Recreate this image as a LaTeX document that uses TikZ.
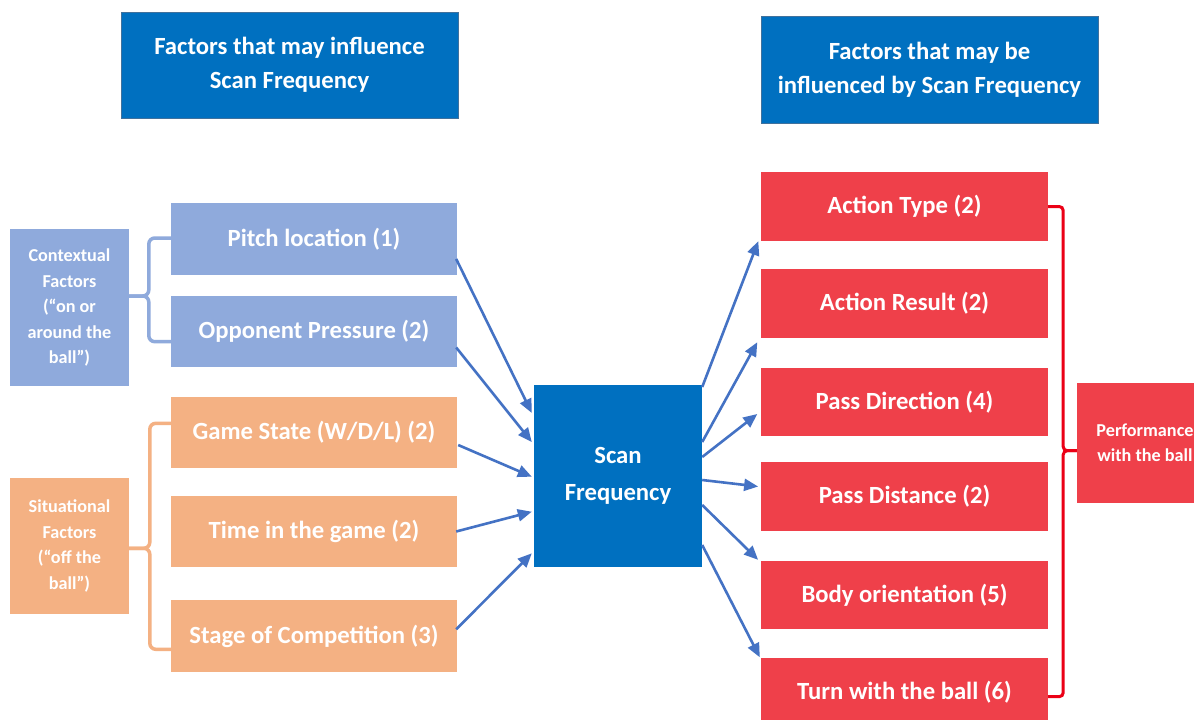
\documentclass[tikz,border=0pt]{standalone}
\usepackage{fontspec}
\setmainfont{Carlito}
\usetikzlibrary{arrows.meta}
\definecolor{dblue}{HTML}{0070C0}
\definecolor{tborder}{HTML}{41719C}
\definecolor{lblue}{HTML}{8FAADC}
\definecolor{lorange}{HTML}{F4B183}
\definecolor{lred}{HTML}{EF404A}
\definecolor{bracketred}{RGB}{235,0,22}
\definecolor{arrowblue}{HTML}{4472C4}
\tikzset{
  box/.style={rectangle, inner sep=0pt, align=center, text=white},
  bigtext/.style={font=\bfseries\fontsize{24.7}{34}\selectfont},
  smalltext/.style={font=\bfseries\fontsize{18.2}{25.5}\selectfont},
  titlebox/.style={box, bigtext, fill=dblue, draw=tborder, line width=1pt, minimum width=337pt, minimum height=106pt},
  ctxbox/.style={box, fill=lblue, minimum width=286pt},
  sitbox/.style={box, fill=lorange, minimum width=286pt},
  outbox/.style={box, bigtext, fill=lred, minimum width=287pt, minimum height=69pt},
  conn/.style={draw=arrowblue, line width=2.6pt, -{Triangle[length=14pt,width=12pt]}},
  brace/.style={line width=3.5pt, rounded corners=6pt},
}
\begin{document}
\begin{tikzpicture}[x=1pt,y=-1pt]
\useasboundingbox (0,0) rectangle (1194,720);
\clip (0,0) rectangle (1194,720);
\fill[white] (0,0) rectangle (1194,720);

% titles
\node[titlebox] (lt) at (289.5,65) {Factors that may influence\\Scan Frequency};
\node[titlebox, minimum height=107pt] (rt) at (929.5,69.5) {Factors that may be\\influenced by Scan Frequency};

% left group labels
\node[box, smalltext, fill=lblue, minimum width=119pt, minimum height=157pt] (ctx) at (69.5,307.5)
  {Contextual\\Factors\\(“on or\\around the\\ball”)};
\node[box, smalltext, fill=lorange, minimum width=119pt, minimum height=136pt] (sit) at (69.5,546)
  {Situational\\Factors\\(“off the\\ball”)};

% left factor boxes
\node[ctxbox, bigtext, minimum height=72pt] (pitch) at (314,239) {Pitch location (1)};
\node[ctxbox, bigtext, minimum height=71pt] (opp) at (314,331.5) {Opponent Pressure (2)};
\node[sitbox, bigtext, minimum height=71pt] (game) at (314,432.5) {Game State (W/D/L) (2)};
\node[sitbox, bigtext, minimum height=71pt] (time) at (314,531.5) {Time in the game (2)};
\node[sitbox, bigtext, minimum height=72pt] (stage) at (314,636) {Stage of Competition (3)};

% centre
\node[box, font=\bfseries\fontsize{24.7}{37}\selectfont, fill=dblue, minimum width=168pt, minimum height=182pt] (scan) at (618,476)
  {Scan\\Frequency};

% right boxes
\node[outbox] (atype) at (904.5,206.5) {Action Type (2)};
\node[outbox] (ares) at (904.5,303.5) {Action Result (2)};
\node[outbox, minimum height=68pt] (pdir) at (904.5,402) {Pass Direction (4)};
\node[outbox] (pdist) at (904.5,496.5) {Pass Distance (2)};
\node[outbox, minimum height=68pt] (body) at (904.5,595) {Body orientation (5)};
\node[outbox] (turn) at (904.5,692) {Turn with the ball (6)};

\node[box, font=\bfseries\fontsize{18.2}{25}\selectfont, fill=lred, minimum width=136pt, minimum height=120pt] (perf) at (1145,443)
  {Performance\\with the ball};

% braces
\draw[brace, lblue] ([yshift=1pt]pitch.west) -- ++(-22,0) |- ([yshift=11.5pt]ctx.east);
\draw[brace, lblue] ([yshift=-10.2pt]opp.west) -- ++(-22,0) |- ([yshift=11.5pt]ctx.east);
\draw[brace, lorange] ([yshift=9.2pt]game.west) -- ++(-21,0) |- ([yshift=-2.3pt]sit.east);
\draw[brace, lorange] ([yshift=-13.3pt]stage.west) -- ++(-21,0) |- ([yshift=-2.3pt]sit.east);
\draw[bracketred, line width=3pt, rounded corners=4pt] (atype.east) -- ++(15,0) |- ([yshift=-7.7pt]perf.west);
\draw[bracketred, line width=3pt, rounded corners=4pt] ([yshift=-4.7pt]turn.east) -- ++(15,0) |- ([yshift=-7.7pt]perf.west);

% input arrows
\draw[conn] ([xshift=-1pt,yshift=-20pt]pitch.east) -- ([xshift=-2pt,yshift=63pt]scan.west);
\draw[conn] ([xshift=-1pt,yshift=-16pt]opp.east) -- ([xshift=-2pt,yshift=34pt]scan.west);
\draw[conn] ([xshift=1pt,yshift=-12.5pt]game.east) -- ([xshift=-2pt,yshift=-0.7pt]scan.west);
\draw[conn] ([xshift=-1pt]time.east) -- ([xshift=-2pt,yshift=-35.7pt]scan.west);
\draw[conn] ([xshift=-1pt,yshift=6.7pt]stage.east) -- ([xshift=-2pt,yshift=-77.3pt]scan.west);

% output arrows
\draw[conn] ([yshift=89pt]scan.east) -- ([xshift=-2.5pt,yshift=0pt]atype.south west);
\draw[conn] ([yshift=34pt]scan.east) -- ([xshift=-3.5pt,yshift=-4pt]ares.south west);
\draw[conn] ([yshift=19pt]scan.east) -- ([xshift=-3.5pt,yshift=-12pt]pdir.west);
\draw[conn] ([yshift=-4pt]scan.east) -- ([xshift=-2.7pt,yshift=10pt]pdist.west);
\draw[conn] ([yshift=-29pt]scan.east) -- ([xshift=-2.7pt,yshift=1pt]body.north west);
\draw[conn] ([yshift=-69pt]scan.east) -- ([xshift=-1pt,yshift=0pt]turn.north west);
\end{tikzpicture}
\end{document}
